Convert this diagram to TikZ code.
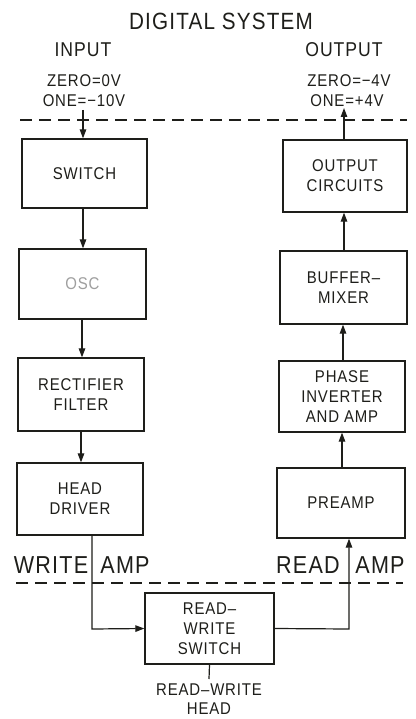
\documentclass[tikz,border=0pt]{standalone}
\usepackage{fontspec}
\setmainfont{Liberation Sans}[FakeStretch=0.88, LetterSpace=5]
\usetikzlibrary{arrows.meta,calc}
\definecolor{ink}{HTML}{1E1E1A}
\begin{document}
\begin{tikzpicture}[x=1pt,y=-1pt,
  box/.style={draw=ink, line width=1.3pt, inner sep=0pt, align=center, text=ink,
    font=\fontsize{17}{20}\selectfont},
  arr/.style={draw=ink, line width=1.2pt, -{Triangle[length=9pt,width=6.5pt]}},
  wire/.style={draw=ink, line width=1.2pt},
  dash line/.style={draw=ink, line width=1.2pt, dash pattern=on 12pt off 7pt},
  lbl/.style={text=ink, inner sep=0pt, align=center},
]
\useasboundingbox (0,0) rectangle (415,719);
\fill[white] (0,0) rectangle (415,719);

% title and labels
\node[lbl, font=\fontsize{23.5}{26}\selectfont] (title) at (221,21) {DIGITAL SYSTEM};
\node[lbl, font=\fontsize{20}{22}\selectfont] (inl) at (83,50) {INPUT};
\node[lbl, font=\fontsize{20}{22}\selectfont] (outl) at (344,50) {OUTPUT};
\node[lbl, font=\fontsize{17}{20}\selectfont] (z0) at (84,81) {ZERO=0V};
\node[lbl, font=\fontsize{17}{20}\selectfont] (o0) at (84,101) {ONE=−10V};
\node[lbl, font=\fontsize{17}{20}\selectfont] (z1) at (349,81) {ZERO=−4V};
\node[lbl, font=\fontsize{17}{20}\selectfont] (o1) at (347,101) {ONE=+4V};

% dashed boundaries
\coordinate (dtl) at (20,120); \coordinate (dtr) at (407,120);
\coordinate (dbl) at (16,583); \coordinate (dbr) at (403,583);
\draw[dash line] (dtl) -- (dtr);
\draw[dash line] (dbl) -- (dbr);

% write chain
\node[box, minimum width=125pt, minimum height=69pt] (sw) at (84.5,173.5) {SWITCH};
\node[box, minimum width=127pt, minimum height=70pt, text=gray!75] (osc) at (82.5,284) {OSC};
\node[box, minimum width=126pt, minimum height=73pt] (rf) at (81,394.5) {RECTIFIER\\FILTER};
\node[box, minimum width=126pt, minimum height=72pt] (hd) at (80,499) {HEAD\\DRIVER};

% read chain
\node[box, minimum width=124pt, minimum height=72pt] (oc) at (345,176) {OUTPUT\\CIRCUITS};
\node[box, minimum width=127pt, minimum height=73pt] (bm) at (343.5,287.5) {BUFFER–\\MIXER};
\node[box, minimum width=126pt, minimum height=71pt] (ph) at (342,396.5) {PHASE\\INVERTER\\AND AMP};
\node[box, minimum width=128pt, minimum height=70pt] (pre) at (341,503) {PREAMP};

% read-write switch
\node[box, minimum width=129pt, minimum height=71pt] (rw) at (209.5,628.5) {READ–\\WRITE\\SWITCH};
\node[lbl, font=\fontsize{17}{19}\selectfont, anchor=north] (head) at (209,684) {READ–WRITE\\HEAD};

% section labels
\node[lbl, font=\fontsize{24.5}{26}\selectfont, anchor=base] (wl) at (51,573) {WRITE};
\node[lbl, font=\fontsize{24.5}{26}\selectfont, anchor=base] (wa) at (125,573) {AMP};
\node[lbl, font=\fontsize{24.5}{26}\selectfont, anchor=base] (rl) at (308,573) {READ};
\node[lbl, font=\fontsize{24.5}{26}\selectfont, anchor=base] (ra) at (380,573) {AMP};

% connectors
\coordinate (inpt) at (83,110);
\coordinate (outpt) at (344,108);
\draw[arr] (inpt) -- (inpt |- sw.north);
\draw[arr] (sw.south -| 83,0) -- (osc.north -| 83,0);
\draw[arr] (osc.south -| 82,0) -- (rf.north -| 82,0);
\draw[arr] (rf.south -| 81,0) -- (hd.north -| 81,0);

\draw[arr] (oc.north -| outpt) -- (outpt);
\draw[arr] (bm.north -| 344,0) -- (oc.south -| 344,0);
\draw[arr] (ph.north -| 343,0) -- (bm.south -| 343,0);
\draw[arr] (pre.north -| 342,0) -- (ph.south -| 342,0);

\coordinate (wc) at (92,629);
\coordinate (rc) at (349,629);
\draw[arr] (hd.south -| wc) -- (wc) -- (rw.west);
\draw[arr] (rw.east) -- (rc) -- (pre.south -| rc);
\coordinate (hd2) at (209,679);
\draw[wire] (rw.south) -- (hd2);
\end{tikzpicture}
\end{document}
